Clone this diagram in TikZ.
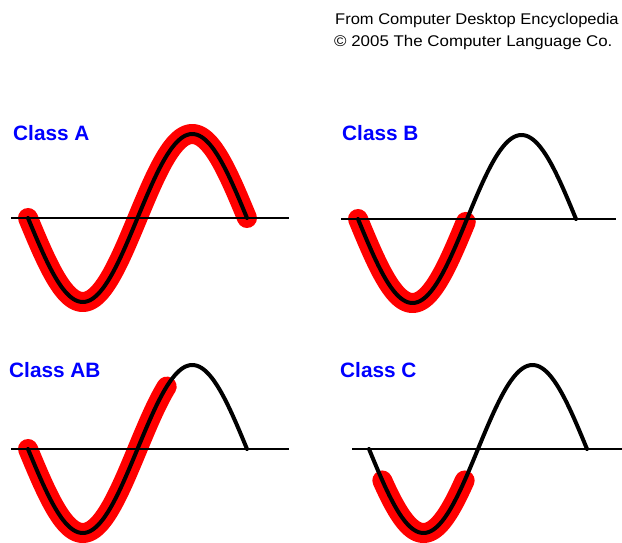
\documentclass[tikz,border=0pt]{standalone}
\usepackage{fontspec}
\setmainfont{Liberation Sans}
\begin{document}
\begin{tikzpicture}[x=1pt,y=-1pt,
  classlabel/.style={anchor=base west,inner sep=0pt,text=blue,font=\fontsize{20.8}{24}\selectfont\bfseries},
  header/.style={anchor=base west,inner sep=0pt,font=\fontsize{15.5}{18}\selectfont},
  axisline/.style={line width=2.5pt},
  wave/.style={line width=4pt,line cap=round,line join=round},
  amp/.style={line width=20pt,red,line cap=round,line join=round}]
\useasboundingbox[fill=white] (0,0) rectangle (622,543);
% header
\node[header] (h1) at (335,25) {\scalebox{1.065}[1]{From Computer Desktop Encyclopedia}};
\node[header] (h2) at (334,47) {\scalebox{1.09}[1]{\char"00A9\ 2005 The Computer Language Co.}};
% labels
\node[classlabel] (la) at (13,141) {Class A};
\node[classlabel] (lb) at (342,141) {Class B};
\node[classlabel] (lab) at (9,377) {Class AB};
\node[classlabel] (lc) at (340,377) {Class C};
% Class A
\draw[amp,domain=0:360,samples=120,smooth,variable=\t] plot ({28+\t/360*219},{218+84*sin(\t)});
\draw[axisline] (11,218) -- (289,218);
\draw[wave,domain=0:360,samples=120,smooth,variable=\t] plot ({28+\t/360*219},{218+84*sin(\t)});
% Class B
\draw[amp,domain=0:178,samples=60,smooth,variable=\t] plot ({358+\t/360*218},{219+84*sin(\t)});
\draw[axisline] (341,219) -- (616,219);
\draw[wave,domain=0:360,samples=120,smooth,variable=\t] plot ({358+\t/360*218},{219+84*sin(\t)});
% Class AB
\draw[amp,domain=0:228,samples=80,smooth,variable=\t] plot ({28+\t/360*219},{449+84*sin(\t)});
\draw[axisline] (11,449) -- (289,449);
\draw[wave,domain=0:360,samples=120,smooth,variable=\t] plot ({28+\t/360*219},{449+84*sin(\t)});
% Class C
\draw[amp,domain=22:158,samples=60,smooth,variable=\t] plot ({369+\t/360*218},{449+84*sin(\t)});
\draw[axisline] (352,449) -- (622,449);
\draw[wave,domain=0:360,samples=120,smooth,variable=\t] plot ({369+\t/360*218},{449+84*sin(\t)});
\end{tikzpicture}
\end{document}
